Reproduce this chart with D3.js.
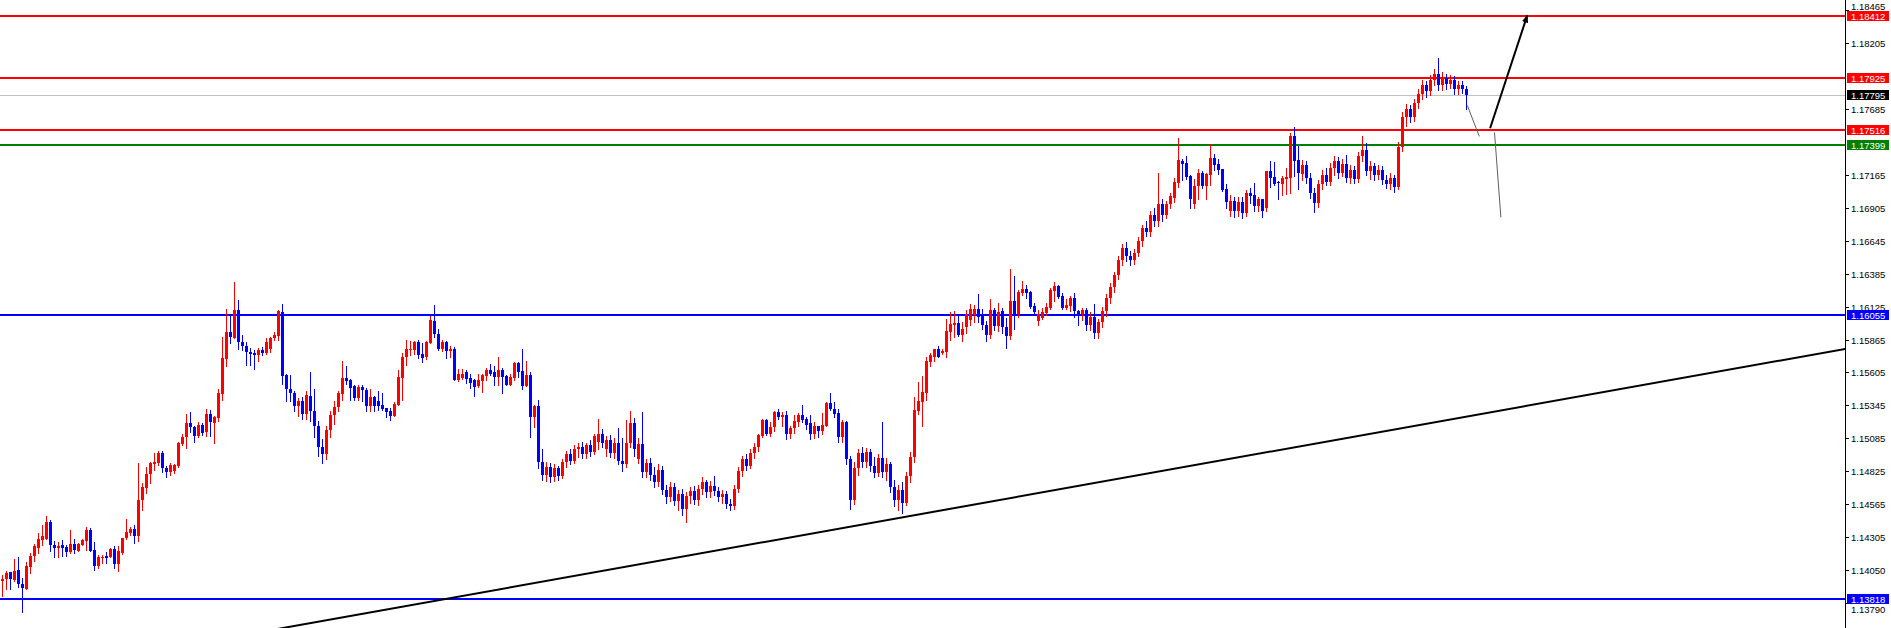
<!DOCTYPE html>
<html><head><meta charset="utf-8">
<script src="https://cdn.jsdelivr.net/npm/d3@7"></script>
<style>html,body{margin:0;padding:0;background:#fff;overflow:hidden}</style>
</head><body>
<svg id="c" width="1891" height="628"></svg>
<script>
// candle data: [open, high, low, close]
const ohlc = [
[1.13960,1.14005,1.13847,1.13981],[1.13976,1.14044,1.13902,1.14028],[1.14031,1.14036,1.13902,1.13981],[1.13973,1.14131,1.13965,1.14042],
[1.14049,1.14147,1.13913,1.13936],[1.13934,1.13989,1.13716,1.13905],[1.13902,1.14110,1.13902,1.14076],[1.14070,1.14183,1.14026,1.14162],
[1.14157,1.14252,1.14118,1.14236],[1.14220,1.14336,1.14183,1.14289],[1.14283,1.14402,1.14244,1.14315],[1.14296,1.14473,1.14296,1.14425],
[1.14425,1.14446,1.14197,1.14244],[1.14249,1.14275,1.14149,1.14220],[1.14220,1.14265,1.14149,1.14241],[1.14244,1.14281,1.14157,1.14220],
[1.14228,1.14249,1.14157,1.14189],[1.14189,1.14360,1.14181,1.14257],[1.14257,1.14296,1.14183,1.14204],[1.14197,1.14262,1.14197,1.14252],
[1.14244,1.14289,1.14244,1.14281],[1.14275,1.14391,1.14204,1.14367],[1.14367,1.14383,1.14197,1.14197],[1.14202,1.14265,1.14047,1.14076],
[1.14078,1.14170,1.14063,1.14147],[1.14139,1.14168,1.14105,1.14152],[1.14155,1.14189,1.14107,1.14139],[1.14152,1.14225,1.14149,1.14215],
[1.14215,1.14236,1.14063,1.14094],[1.14094,1.14236,1.14039,1.14197],[1.14181,1.14304,1.14173,1.14304],[1.14299,1.14454,1.14291,1.14344],
[1.14336,1.14386,1.14325,1.14373],[1.14375,1.14399,1.14260,1.14315],[1.14317,1.14888,1.14275,1.14596],[1.14596,1.14733,1.14520,1.14699],
[1.14693,1.14861,1.14656,1.14806],[1.14804,1.14898,1.14735,1.14890],[1.14880,1.14967,1.14835,1.14896],[1.14888,1.14990,1.14877,1.14967],
[1.14967,1.14990,1.14819,1.14851],[1.14854,1.14867,1.14783,1.14819],[1.14819,1.14888,1.14796,1.14877],[1.14825,1.14880,1.14812,1.14872],
[1.14869,1.15061,1.14861,1.15053],[1.15045,1.15124,1.15035,1.15098],[1.15098,1.15279,1.15006,1.15208],[1.15208,1.15290,1.15135,1.15174],
[1.15179,1.15187,1.15056,1.15103],[1.15103,1.15216,1.15095,1.15195],[1.15195,1.15206,1.15111,1.15130],[1.15135,1.15321,1.15103,1.15274],
[1.15274,1.15313,1.15103,1.15214],[1.15206,1.15261,1.15048,1.15253],[1.15250,1.15471,1.15221,1.15440],[1.15432,1.15884,1.15392,1.15716],
[1.15708,1.16102,1.15655,1.15921],[1.15921,1.16063,1.15836,1.15884],[1.15879,1.16315,1.15873,1.16094],[1.16094,1.16173,1.15787,1.15844],
[1.15849,1.15897,1.15781,1.15813],[1.15810,1.15849,1.15663,1.15766],[1.15768,1.15800,1.15663,1.15747],[1.15758,1.15779,1.15632,1.15742],
[1.15742,1.15800,1.15695,1.15779],[1.15779,1.15802,1.15742,1.15755],[1.15755,1.15873,1.15747,1.15842],[1.15794,1.15884,1.15766,1.15876],
[1.15873,1.15928,1.15865,1.15900],[1.15889,1.16097,1.15860,1.16086],[1.16083,1.16141,1.15515,1.15576],[1.15582,1.15590,1.15380,1.15471],
[1.15476,1.15584,1.15380,1.15440],[1.15440,1.15463,1.15300,1.15340],[1.15340,1.15400,1.15260,1.15380],[1.15380,1.15410,1.15240,1.15280],
[1.15280,1.15463,1.15240,1.15424],[1.15420,1.15605,1.15220,1.15300],[1.15300,1.15471,1.15100,1.15180],[1.15180,1.15220,1.14950,1.15020],
[1.15020,1.15080,1.14890,1.14960],[1.14960,1.15180,1.14920,1.15150],[1.15150,1.15300,1.15100,1.15270],[1.15270,1.15380,1.15200,1.15330],
[1.15330,1.15456,1.15300,1.15440],[1.15432,1.15692,1.15392,1.15558],[1.15558,1.15660,1.15511,1.15534],[1.15542,1.15553,1.15390,1.15479],
[1.15497,1.15503,1.15390,1.15401],[1.15401,1.15510,1.15390,1.15489],[1.15487,1.15503,1.15380,1.15466],[1.15466,1.15480,1.15300,1.15340],
[1.15340,1.15471,1.15300,1.15408],[1.15408,1.15419,1.15300,1.15340],[1.15380,1.15463,1.15310,1.15340],[1.15345,1.15440,1.15306,1.15314],
[1.15324,1.15329,1.15253,1.15292],[1.15298,1.15329,1.15230,1.15260],[1.15260,1.15369,1.15260,1.15353],[1.15345,1.15624,1.15345,1.15566],
[1.15558,1.15755,1.15385,1.15731],[1.15724,1.15865,1.15661,1.15787],[1.15779,1.15850,1.15739,1.15787],[1.15779,1.15850,1.15747,1.15842],
[1.15842,1.15858,1.15716,1.15739],[1.15747,1.15834,1.15684,1.15716],[1.15724,1.15850,1.15708,1.15842],[1.15834,1.16047,1.15834,1.16015],
[1.16007,1.16140,1.15881,1.15905],[1.15910,1.15944,1.15779,1.15794],[1.15794,1.15858,1.15771,1.15842],[1.15842,1.15850,1.15716,1.15771],
[1.15771,1.15810,1.15731,1.15794],[1.15794,1.15802,1.15542,1.15542],[1.15542,1.15629,1.15534,1.15597],[1.15558,1.15634,1.15550,1.15597],
[1.15605,1.15621,1.15519,1.15550],[1.15558,1.15597,1.15479,1.15526],[1.15542,1.15550,1.15416,1.15487],[1.15495,1.15597,1.15487,1.15542],
[1.15534,1.15597,1.15448,1.15582],[1.15574,1.15637,1.15542,1.15621],[1.15621,1.15668,1.15582,1.15597],[1.15605,1.15653,1.15510,1.15566],
[1.15566,1.15724,1.15510,1.15621],[1.15621,1.15637,1.15440,1.15566],[1.15574,1.15589,1.15510,1.15510],[1.15510,1.15597,1.15503,1.15566],
[1.15558,1.15684,1.15542,1.15676],[1.15676,1.15684,1.15566,1.15605],[1.15613,1.15794,1.15471,1.15495],[1.15495,1.15692,1.15495,1.15582],
[1.15582,1.15605,1.15093,1.15258],[1.15258,1.15345,1.15172,1.15337],[1.15337,1.15392,1.14850,1.14900],[1.14900,1.15000,1.14760,1.14800],
[1.14800,1.14900,1.14750,1.14860],[1.14860,1.14890,1.14740,1.14780],[1.14780,1.14880,1.14750,1.14850],[1.14850,1.14870,1.14760,1.14790],
[1.14790,1.14920,1.14770,1.14900],[1.14900,1.14990,1.14860,1.14960],[1.14960,1.15000,1.14880,1.14910],[1.14910,1.15030,1.14890,1.15000],
[1.15000,1.15050,1.14940,1.15020],[1.15020,1.15060,1.14930,1.14960],[1.14960,1.15050,1.14930,1.15030],[1.15030,1.15070,1.14950,1.14980],
[1.14980,1.15120,1.14960,1.15101],[1.15060,1.15235,1.15000,1.15124],[1.15124,1.15156,1.15020,1.15050],[1.15000,1.15101,1.14950,1.15070],
[1.15070,1.15109,1.14940,1.14970],[1.14970,1.15085,1.14930,1.15050],[1.15050,1.15164,1.14880,1.14910],[1.14910,1.15085,1.14830,1.14880],
[1.14880,1.15227,1.14860,1.15050],[1.15050,1.15298,1.15020,1.15203],[1.15203,1.15250,1.14950,1.15000],[1.14920,1.15085,1.14890,1.15040],
[1.15040,1.15290,1.14780,1.14820],[1.14820,1.14920,1.14780,1.14890],[1.14890,1.14930,1.14760,1.14800],[1.14800,1.14860,1.14700,1.14740],
[1.14740,1.14880,1.14710,1.14840],[1.14840,1.14870,1.14650,1.14680],[1.14680,1.14720,1.14580,1.14620],[1.14620,1.14740,1.14590,1.14700],
[1.14700,1.14730,1.14560,1.14590],[1.14590,1.14680,1.14520,1.14650],[1.14650,1.14690,1.14480,1.14530],[1.14530,1.14660,1.14430,1.14630],
[1.14630,1.14700,1.14580,1.14670],[1.14670,1.14710,1.14570,1.14600],[1.14600,1.14720,1.14560,1.14690],[1.14690,1.14780,1.14650,1.14740],
[1.14740,1.14760,1.14620,1.14660],[1.14660,1.14750,1.14620,1.14710],[1.14710,1.14790,1.14640,1.14670],[1.14670,1.14700,1.14590,1.14620],
[1.14620,1.14680,1.14580,1.14650],[1.14650,1.14670,1.14540,1.14570],[1.14570,1.14610,1.14520,1.14550],[1.14550,1.14720,1.14530,1.14690],
[1.14690,1.14860,1.14660,1.14830],[1.14830,1.14950,1.14790,1.14920],[1.14920,1.14960,1.14840,1.14870],[1.14870,1.15000,1.14850,1.14970],
[1.14970,1.15050,1.14930,1.15020],[1.15020,1.15124,1.14990,1.15109],[1.15101,1.15235,1.15093,1.15227],[1.15227,1.15235,1.15116,1.15124],
[1.15124,1.15211,1.15101,1.15172],[1.15172,1.15298,1.15140,1.15290],[1.15290,1.15321,1.15235,1.15258],[1.15258,1.15290,1.15180,1.15266],
[1.15266,1.15298,1.15080,1.15120],[1.15120,1.15187,1.15090,1.15164],[1.15164,1.15266,1.15130,1.15220],[1.15211,1.15282,1.15187,1.15266],
[1.15266,1.15345,1.15211,1.15227],[1.15235,1.15258,1.15156,1.15195],[1.15203,1.15266,1.15080,1.15120],[1.15120,1.15211,1.15090,1.15180],
[1.15180,1.15187,1.15100,1.15140],[1.15140,1.15282,1.15120,1.15195],[1.15187,1.15369,1.15180,1.15361],[1.15361,1.15440,1.15306,1.15314],
[1.15321,1.15369,1.15258,1.15274],[1.15282,1.15314,1.15060,1.15100],[1.15100,1.15227,1.15060,1.15211],[1.15211,1.15220,1.14880,1.14920],
[1.14920,1.14950,1.14530,1.14600],[1.14600,1.14900,1.14570,1.14850],[1.14850,1.15000,1.14800,1.14970],[1.14970,1.15020,1.14860,1.14900],
[1.14900,1.15010,1.14860,1.14980],[1.14980,1.15000,1.14830,1.14870],[1.14870,1.14940,1.14780,1.14810],[1.14810,1.14960,1.14790,1.14930],
[1.14930,1.15216,1.14780,1.14820],[1.14820,1.14930,1.14760,1.14880],[1.14880,1.14900,1.14660,1.14700],[1.14700,1.14760,1.14550,1.14600],
[1.14600,1.14720,1.14520,1.14680],[1.14680,1.14740,1.14500,1.14580],[1.14580,1.14820,1.14560,1.14790],[1.14790,1.14980,1.14740,1.14940],
[1.14940,1.15408,1.14900,1.15310],[1.15298,1.15530,1.15274,1.15377],[1.15369,1.15574,1.15180,1.15448],[1.15440,1.15731,1.15392,1.15692],
[1.15684,1.15755,1.15653,1.15740],[1.15731,1.15787,1.15692,1.15787],[1.15787,1.15810,1.15731,1.15731],[1.15755,1.15787,1.15747,1.15771],
[1.15763,1.16023,1.15724,1.15929],[1.15921,1.16078,1.15858,1.15984],[1.15976,1.16086,1.15881,1.15992],[1.15992,1.16055,1.15889,1.15897],
[1.15897,1.16000,1.15850,1.15950],[1.15960,1.16094,1.15920,1.16063],[1.16020,1.16141,1.15980,1.16102],[1.16055,1.16133,1.16000,1.16102],
[1.16102,1.16220,1.16000,1.16040],[1.16047,1.16102,1.15950,1.15980],[1.15980,1.16010,1.15850,1.15900],[1.15900,1.16181,1.15880,1.16094],
[1.16094,1.16110,1.15940,1.15970],[1.15970,1.16149,1.15930,1.16078],[1.16086,1.16110,1.15920,1.15960],[1.15960,1.16031,1.15800,1.15890],
[1.15890,1.16417,1.15870,1.16165],[1.16165,1.16362,1.15950,1.16063],[1.16063,1.16252,1.16040,1.16236],[1.16228,1.16323,1.16212,1.16260],
[1.16260,1.16291,1.16189,1.16228],[1.16236,1.16244,1.16110,1.16118],[1.16126,1.16149,1.16063,1.16078],[1.16010,1.16094,1.15980,1.16063],
[1.16031,1.16110,1.16023,1.16078],[1.16070,1.16149,1.16055,1.16118],[1.16110,1.16267,1.16102,1.16252],[1.16244,1.16315,1.16165,1.16283],
[1.16283,1.16291,1.16189,1.16197],[1.16204,1.16228,1.16102,1.16110],[1.16110,1.16181,1.16102,1.16133],[1.16126,1.16204,1.16090,1.16189],
[1.16189,1.16228,1.16040,1.16086],[1.16086,1.16094,1.15980,1.16060],[1.16063,1.16110,1.16020,1.16094],[1.16094,1.16110,1.15940,1.15980],
[1.15980,1.16078,1.15940,1.16040],[1.16040,1.16141,1.15880,1.15920],[1.15920,1.16030,1.15880,1.16000],[1.16000,1.16120,1.15960,1.16090],
[1.16090,1.16220,1.16050,1.16190],[1.16190,1.16310,1.16150,1.16280],[1.16280,1.16400,1.16240,1.16370],[1.16370,1.16520,1.16340,1.16490],
[1.16490,1.16620,1.16450,1.16590],[1.16590,1.16630,1.16480,1.16520],[1.16520,1.16560,1.16450,1.16490],[1.16490,1.16580,1.16460,1.16550],
[1.16550,1.16670,1.16520,1.16640],[1.16640,1.16770,1.16600,1.16740],[1.16740,1.16800,1.16680,1.16710],[1.16710,1.16880,1.16680,1.16850],
[1.16850,1.16900,1.16760,1.16800],[1.16800,1.17174,1.16760,1.16930],[1.16930,1.16970,1.16800,1.16850],[1.16850,1.16960,1.16820,1.16930],
[1.16930,1.17020,1.16900,1.16995],[1.16977,1.17135,1.16950,1.17103],[1.17095,1.17450,1.17064,1.17277],[1.17269,1.17285,1.17119,1.17245],
[1.17253,1.17308,1.17127,1.17143],[1.17150,1.17158,1.16900,1.16970],[1.16930,1.17127,1.16900,1.17072],[1.17072,1.17206,1.16970,1.17174],
[1.17174,1.17190,1.17056,1.17072],[1.17072,1.17174,1.16970,1.17166],[1.17158,1.17403,1.17080,1.17292],[1.17292,1.17324,1.17198,1.17237],
[1.17245,1.17285,1.17166,1.17198],[1.17206,1.17206,1.17032,1.17040],[1.17048,1.17087,1.16900,1.16950],[1.16880,1.17001,1.16840,1.16960],
[1.16960,1.16990,1.16830,1.16880],[1.16880,1.16990,1.16840,1.16950],[1.16950,1.16990,1.16820,1.16860],[1.16860,1.17040,1.16840,1.17017],
[1.17017,1.17056,1.16940,1.16993],[1.17001,1.17095,1.16880,1.16920],[1.16920,1.16985,1.16880,1.16970],[1.16970,1.16970,1.16830,1.16880],
[1.16900,1.17190,1.16880,1.17190],[1.17190,1.17269,1.17064,1.17135],[1.17143,1.17261,1.17079,1.17087],[1.17103,1.17111,1.16970,1.17095],
[1.17087,1.17151,1.17001,1.17135],[1.17127,1.17214,1.17009,1.17143],[1.17135,1.17490,1.17017,1.17466],[1.17466,1.17537,1.17151,1.17269],
[1.17277,1.17387,1.17048,1.17174],[1.17170,1.17280,1.17120,1.17240],[1.17240,1.17270,1.17100,1.17140],[1.17140,1.17180,1.16980,1.17020],
[1.17020,1.17060,1.16870,1.16940],[1.16940,1.17120,1.16910,1.17090],[1.17090,1.17200,1.17050,1.17160],[1.17160,1.17220,1.17080,1.17110],
[1.17110,1.17260,1.17080,1.17220],[1.17220,1.17310,1.17160,1.17270],[1.17270,1.17300,1.17140,1.17180],[1.17180,1.17290,1.17150,1.17250],
[1.17250,1.17320,1.17110,1.17140],[1.17140,1.17240,1.17100,1.17200],[1.17200,1.17230,1.17100,1.17130],[1.17130,1.17340,1.17110,1.17310],
[1.17310,1.17470,1.17270,1.17360],[1.17360,1.17410,1.17160,1.17190],[1.17190,1.17270,1.17130,1.17230],[1.17230,1.17260,1.17120,1.17160],
[1.17160,1.17240,1.17130,1.17200],[1.17200,1.17230,1.17090,1.17120],[1.17120,1.17160,1.17060,1.17090],[1.17090,1.17180,1.17050,1.17140],
[1.17140,1.17160,1.17030,1.17070],[1.17070,1.17420,1.17050,1.17380],[1.17380,1.17660,1.17350,1.17620],[1.17620,1.17720,1.17550,1.17680],
[1.17680,1.17710,1.17580,1.17620],[1.17620,1.17760,1.17590,1.17730],[1.17730,1.17840,1.17690,1.17800],[1.17800,1.17910,1.17760,1.17870],
[1.17870,1.17900,1.17780,1.17820],[1.17820,1.17950,1.17790,1.17910],[1.17910,1.18000,1.17870,1.17960],[1.17960,1.18080,1.17830,1.17870],
[1.17870,1.17970,1.17830,1.17930],[1.17930,1.17960,1.17840,1.17880],[1.17880,1.17950,1.17850,1.17910],[1.17910,1.17940,1.17800,1.17840],
[1.17840,1.17900,1.17800,1.17870],[1.17870,1.17900,1.17810,1.17840],[1.17840,1.17860,1.17680,1.17795]
];
const tickLabels = ["1.18465","1.18205","1.17685","1.17165","1.16905","1.16645","1.16385","1.16125","1.15865","1.15605","1.15345","1.15085","1.14825","1.14565","1.14305","1.14050","1.13790"];
const levelPrices = [1.18412, 1.17925, 1.17516, 1.17399, 1.16055, 1.13818];
const levelColors = ["#ff0000", "#ff0000", "#ff0000", "#008000", "#0000ff", "#0000ff"];
const bidPrice = 1.17795;
const trendIndex = [224.6, 460.6];
const trendPrice = [1.14461, 1.15790];
const pathDown1 = [[366.2, 1.17710], [369.2, 1.17466]];
const pathArrow = [[371.9, 1.17530], [381.2, 1.18420]];
const pathDown2 = [[373.0, 1.17497], [374.6, 1.16827]];

const W = 1891, H = 628, plotW = 1845;
const svg = d3.select("#c");
const x = d3.scaleLinear().domain([0, 460]).range([2.5, 1842.5]);
const y = d3.scaleLinear().domain([1.18541, 1.13591]).range([0, H]);

const defs = svg.append("defs");
defs.append("clipPath").attr("id", "clip").append("rect").attr("x", 0).attr("y", 0).attr("width", plotW).attr("height", H);
defs.append("marker").attr("id", "ah").attr("viewBox", "0 0 10 10").attr("refX", 9).attr("refY", 5)
  .attr("markerWidth", 4).attr("markerHeight", 4).attr("orient", "auto")
  .append("path").attr("d", "M0,1 L10,5 L0,9 Z").attr("fill", "#000");

svg.append("rect").attr("width", W).attr("height", H).attr("fill", "#fff");
const g = svg.append("g").attr("clip-path", "url(#clip)");

// bid line
g.append("line").attr("x1", 0).attr("x2", plotW).attr("y1", Math.round(y(bidPrice)) + 0.5).attr("y2", Math.round(y(bidPrice)) + 0.5)
  .attr("stroke", "#c0c0c0").attr("stroke-width", 1);

// level lines
levelPrices.forEach((p, k) => {
  const yy = Math.round(y(p));
  g.append("line").attr("x1", 0).attr("x2", plotW).attr("y1", yy).attr("y2", yy)
    .attr("stroke", levelColors[k]).attr("stroke-width", 2);
});

// trend line (extended across the plot)
const tSlope = (trendPrice[1] - trendPrice[0]) / (trendIndex[1] - trendIndex[0]);
const tAt = i => trendPrice[0] + (i - trendIndex[0]) * tSlope;
g.append("line").attr("x1", x(-1)).attr("y1", y(tAt(-1))).attr("x2", x(461)).attr("y2", y(tAt(461)))
  .attr("stroke", "#000").attr("stroke-width", 2);

// candles
const cg = g.append("g").attr("shape-rendering", "crispEdges");
ohlc.forEach((d, i) => {
  const [o, h, l, c] = d;
  const col = c >= o ? "#ff0000" : "#0000ff";
  const cx = Math.floor(x(i));
  cg.append("rect").attr("x", cx).attr("width", 1)
    .attr("y", Math.round(y(h))).attr("height", Math.max(1, Math.round(y(l)) - Math.round(y(h)) + 1)).attr("fill", col);
  const top = Math.round(y(Math.max(o, c))), bot = Math.round(y(Math.min(o, c)));
  cg.append("rect").attr("x", cx - 1).attr("width", 3)
    .attr("y", top).attr("height", Math.max(1, bot - top)).attr("fill", col);
});

// forecast drawings
const lg = d3.line().x(d => x(d[0])).y(d => y(d[1]));
g.append("path").attr("d", lg(pathDown1)).attr("stroke", "#606060").attr("stroke-width", 1).attr("fill", "none");
g.append("path").attr("d", lg(pathDown2)).attr("stroke", "#606060").attr("stroke-width", 1).attr("fill", "none");
g.append("path").attr("d", lg(pathArrow)).attr("stroke", "#000").attr("stroke-width", 2).attr("fill", "none").attr("marker-end", "url(#ah)");

// price axis
const ax = svg.append("g");
ax.append("rect").attr("x", plotW).attr("y", 0).attr("width", W - plotW).attr("height", H).attr("fill", "#fff");
ax.append("line").attr("x1", plotW + 0.5).attr("x2", plotW + 0.5).attr("y1", 0).attr("y2", H).attr("stroke", "#000");
const font = "'Liberation Sans', Arial, sans-serif";
tickLabels.forEach((t, k) => {
  const yy = Math.round(y(+t)) + 0.5;
  ax.append("line").attr("x1", plotW).attr("x2", plotW + 4).attr("y1", yy).attr("y2", yy).attr("stroke", "#000");
  // first / last labels sit just clear of the neighbouring price tags
  let ty = yy + 3.5;
  if (k === 0) ty = yy - 0.5;
  if (k === tickLabels.length - 1) ty = yy + 9;
  ax.append("text").attr("x", plotW + 6).attr("y", ty).attr("font-family", font).attr("font-size", 9.5)
    .attr("fill", "#000").text(t);
});
function tag(p, col) {
  const yy = Math.round(y(p));
  ax.append("rect").attr("x", plotW + 2).attr("y", yy - 5).attr("width", 42).attr("height", 10).attr("fill", col);
  ax.append("text").attr("x", plotW + 6).attr("y", yy + 3.5).attr("font-family", font).attr("font-size", 9.5)
    .attr("fill", "#fff").text(p.toFixed(5));
}
levelPrices.forEach((p, k) => tag(p, levelColors[k]));
tag(bidPrice, "#000");
</script>
</body></html>
